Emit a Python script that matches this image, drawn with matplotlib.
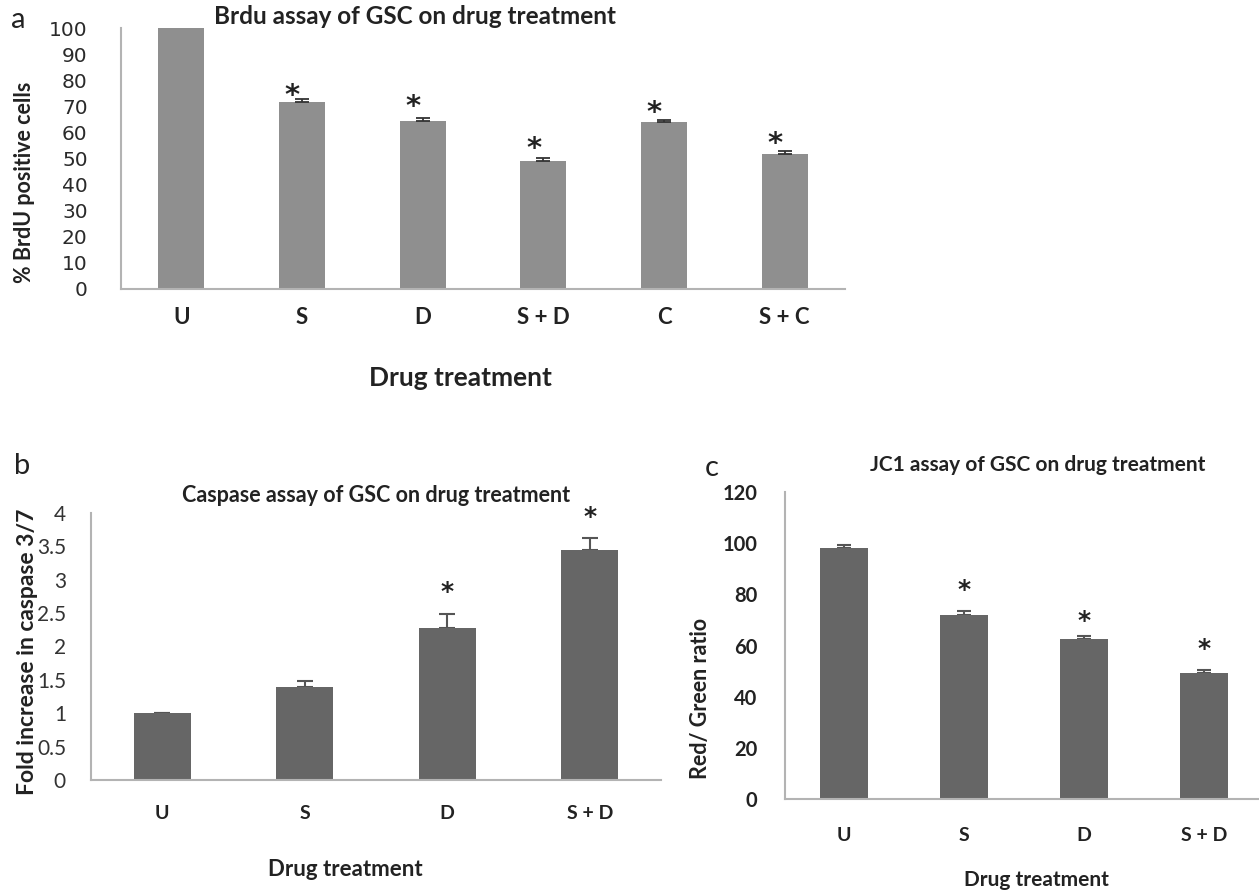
import matplotlib
matplotlib.use("Agg")
import matplotlib.pyplot as plt
import numpy as np

# ---------------- data ----------------
cats_a = ["U", "S", "D", "S + D", "C", "S + C"]
brdu_vals = [100, 71.5, 64.5, 49.2, 63.8, 51.6]
brdu_err = [0, 1.2, 1.0, 1.0, 0.9, 1.2]
brdu_star = [None, 74.0, 69.7, 53.6, 67.5, 55.6]

cats_b = ["U", "S", "D", "S + D"]
casp_vals = [1.0, 1.40, 2.27, 3.45]
casp_err = [0.01, 0.09, 0.22, 0.17]
casp_star = [None, None, 2.81, 3.94]

cats_c = ["U", "S", "D", "S + D"]
jc1_vals = [98.0, 72.1, 62.4, 49.3]
jc1_err = [1.2, 1.2, 1.3, 1.3]
jc1_star = [None, 81.7, 69.7, 58.6]

FONT = "Lato"
W, H = 1259, 894
fig = plt.figure(figsize=(W / 100, H / 100), dpi=100)

def box(l, t, r, b):
    return [l / W, 1 - b / H, (r - l) / W, (b - t) / H]

spine_col = "#b3b3b3"

def style(ax):
    for s in ["top", "right"]:
        ax.spines[s].set_visible(False)
    for s in ["left", "bottom"]:
        ax.spines[s].set_color(spine_col)
        ax.spines[s].set_linewidth(1.5)
    ax.tick_params(length=0)

# ---------------- panel a ----------------
axa = fig.add_axes(box(121, 28, 845, 289))
xa = np.arange(len(cats_a))
axa.bar(xa, brdu_vals, width=0.38, color="#8f8f8f", zorder=2)
axa.errorbar(xa[1:], brdu_vals[1:], yerr=[np.zeros(len(xa) - 1), brdu_err[1:]],
             fmt="none", ecolor="#333333", elinewidth=1.3, capsize=5, capthick=1.3, zorder=3)
for xi, s in zip(xa, brdu_star):
    if s is not None:
        axa.text(xi - 0.08, s, "*", ha="center", va="center", fontsize=21,
                 fontweight="bold", color="#222222", family="DejaVu Sans")
axa.set_xlim(-0.5, len(cats_a) - 0.5)
axa.set_ylim(0, 100)
axa.set_yticks(np.arange(0, 101, 10))
axa.set_yticklabels([str(v) for v in range(0, 101, 10)], family="DejaVu Sans",
                    fontsize=14.5, color="#2a2a2a")
axa.set_xticks(xa)
axa.set_xticklabels(cats_a, family=FONT, fontweight="bold", fontsize=16, color="#222222")
axa.tick_params(axis="y", pad=24)
axa.tick_params(axis="x", pad=13)
style(axa)
fig.text(25 / W, 1 - 182 / H, "% BrdU positive cells", rotation=90, ha="center", va="center",
         family=FONT, fontweight="bold", fontsize=15.5, color="#222222")
fig.text(460 / W, 1 - 378 / H, "Drug treatment", ha="center", va="center",
         family=FONT, fontweight="bold", fontsize=19, color="#222222")
fig.text(415 / W, 1 - 17 / H, "Brdu assay of GSC on drug treatment", ha="center", va="center",
         family=FONT, fontweight="bold", fontsize=17.5, color="#222222")
fig.text(18 / W, 1 - 20 / H, "a", ha="center", va="center", family=FONT, fontsize=21, color="#222222")

# ---------------- panel b ----------------
axb = fig.add_axes(box(91, 513, 661, 780))
xb = np.arange(len(cats_b))
axb.bar(xb, casp_vals, width=0.4, color="#666666", zorder=2)
axb.errorbar(xb, casp_vals, yerr=[np.zeros(len(xb)), casp_err], fmt="none",
             ecolor="#555555", elinewidth=1.5, capsize=6, capthick=1.5, zorder=1)
for xi, s in zip(xb, casp_star):
    if s is not None:
        axb.text(xi, s, "*", ha="center", va="center", fontsize=18,
                 fontweight="bold", color="#222222", family="DejaVu Sans")
axb.set_xlim(-0.5, len(cats_b) - 0.5)
axb.set_ylim(0, 4)
axb.set_yticks(np.arange(0, 4.01, 0.5))
axb.set_yticklabels(["0", "0.5", "1", "1.5", "2", "2.5", "3", "3.5", "4"], family=FONT,
                    fontsize=15, color="#333333")
axb.set_xticks(xb)
axb.set_xticklabels(cats_b, family=FONT, fontweight="bold", fontsize=14, color="#222222")
axb.tick_params(axis="y", pad=18)
axb.tick_params(axis="x", pad=18)
style(axb)
fig.text(28 / W, 1 - 652 / H, "Fold increase in caspase 3/7", rotation=90, ha="center", va="center",
         family=FONT, fontweight="bold", fontsize=16.5, color="#222222")
fig.text(345 / W, 1 - 870 / H, "Drug treatment", ha="center", va="center",
         family=FONT, fontweight="bold", fontsize=16, color="#222222")
fig.text(376 / W, 1 - 495 / H, "Caspase assay of GSC on drug treatment", ha="center", va="center",
         family=FONT, fontweight="bold", fontsize=15.5, color="#222222")
fig.text(22 / W, 1 - 466 / H, "b", ha="center", va="center", family=FONT, fontsize=21, color="#222222")

# ---------------- panel c ----------------
axc = fig.add_axes(box(785, 492, 1259, 799))
xc = np.arange(len(cats_c))
axc.bar(xc, jc1_vals, width=0.4, color="#666666", zorder=2)
axc.errorbar(xc, jc1_vals, yerr=[np.zeros(len(xc)), jc1_err], fmt="none",
             ecolor="#555555", elinewidth=1.5, capsize=5, capthick=1.5, zorder=1)
for xi, s in zip(xc, jc1_star):
    if s is not None:
        axc.text(xi, s, "*", ha="center", va="center", fontsize=18,
                 fontweight="bold", color="#222222", family="DejaVu Sans")
axc.set_xlim(-0.49, 3.46)
axc.set_ylim(0, 120)
axc.set_yticks(np.arange(0, 121, 20))
axc.set_yticklabels([str(v) for v in range(0, 121, 20)], family=FONT, fontweight="bold",
                    fontsize=14.5, color="#222222")
axc.set_xticks(xc)
axc.set_xticklabels(cats_c, family=FONT, fontweight="bold", fontsize=14, color="#222222")
axc.tick_params(axis="y", pad=20)
axc.tick_params(axis="x", pad=20)
style(axc)
fig.text(700 / W, 1 - 698 / H, "Red/ Green ratio", rotation=90, ha="center", va="center",
         family=FONT, fontweight="bold", fontsize=15.5, color="#222222")
fig.text(1036 / W, 1 - 880 / H, "Drug treatment", ha="center", va="center",
         family=FONT, fontweight="bold", fontsize=15, color="#222222")
fig.text(1038 / W, 1 - 465 / H, "JC1 assay of GSC on drug treatment", ha="center", va="center",
         family=FONT, fontweight="bold", fontsize=15, color="#222222")
fig.text(712 / W, 1 - 468 / H, "c", ha="center", va="center", family=FONT, fontsize=21, color="#222222")

fig.savefig("out.png", dpi=100)
